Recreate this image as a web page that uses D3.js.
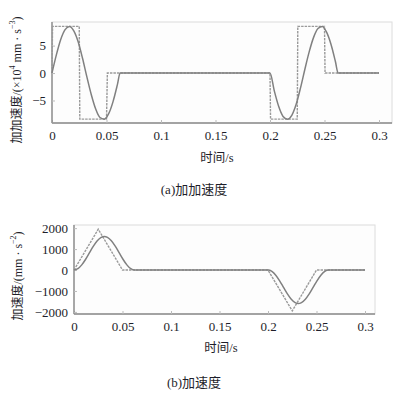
<!DOCTYPE html>
<html><head><meta charset="utf-8">
<script src="https://cdn.jsdelivr.net/npm/d3@7"></script>
<style>
html,body{margin:0;padding:0;background:#fff;}
svg{display:block;}
text{font-family:"Liberation Serif","Noto Sans CJK SC",serif;fill:#1e1e2a;}
</style></head><body>
<svg id="c" width="400" height="398"></svg>
<script>
// ---- data ----
const xTicks = [0, 0.05, 0.1, 0.15, 0.2, 0.25, 0.3];
const xTickLabels = ["0", "0.05", "0.1", "0.15", "0.2", "0.25", "0.3"];

// (a) jerk, x10^4 mm/s^3
const jerkTicks = [-5, 0, 5];
const jerkStepT = [0, 0.0005, 0.025, 0.0255, 0.05, 0.0508, 0.2, 0.2005, 0.225, 0.2255, 0.25, 0.2505, 0.3];
const jerkStepV = [0, 8.5, 8.5, -8.4, -8.4, 0, 0, -8.4, -8.4, 8.5, 8.5, 0, 0];
const jerkSmoothT = [0, 0.004, 0.008, 0.012, 0.016, 0.020, 0.024, 0.028, 0.032, 0.036, 0.040, 0.044, 0.048, 0.052, 0.056, 0.060, 0.0625,
  0.2, 0.204, 0.208, 0.212, 0.216, 0.220, 0.224, 0.228, 0.232, 0.236, 0.240, 0.244, 0.248, 0.252, 0.256, 0.260, 0.2625, 0.3];
const jerkSmoothV = [0, 3.3, 6.1, 7.9, 8.5, 7.7, 5.7, 2.7, -0.7, -3.9, -6.5, -8.1, -8.4, -7.4, -5.2, -2.1, 0,
  0, -3.3, -6.1, -7.9, -8.4, -7.7, -5.7, -2.7, 0.7, 3.9, 6.5, 8.1, 8.5, 7.4, 5.2, 2.1, 0, 0];

// (b) acceleration, mm/s^2
const accTicks = [-2000, -1000, 0, 1000, 2000];
const accTriT = [0, 0.025, 0.05, 0.2, 0.225, 0.25, 0.3];
const accTriV = [0, 1950, 0, 0, -1950, 0, 0];
const accSmoothT = [0, 0.004, 0.008, 0.012, 0.016, 0.020, 0.024, 0.028, 0.03125, 0.0345, 0.0385, 0.0425, 0.0465, 0.0505, 0.0545, 0.0585, 0.0625,
  0.2, 0.204, 0.208, 0.212, 0.216, 0.220, 0.224, 0.228, 0.23125, 0.2345, 0.2385, 0.2425, 0.2465, 0.2505, 0.2545, 0.2585, 0.2625, 0.3];
const accSmoothV = [0, 64, 245, 515, 830, 1140, 1395, 1555, 1600, 1555, 1395, 1140, 830, 515, 245, 64, 0,
  0, -64, -245, -515, -830, -1140, -1395, -1555, -1600, -1555, -1395, -1140, -830, -515, -245, -64, 0, 0];

const svg = d3.select("#c");

function panel(o) {
  const x = d3.scaleLinear().domain([0, 0.3]).range([o.x0, o.x1]);
  const y = d3.scaleLinear().domain(o.yDomain).range([o.yB, o.yT]);
  const g = svg.append("g");
  g.append("rect").attr("x", o.x0).attr("y", o.yT).attr("width", o.right - o.x0).attr("height", o.yB - o.yT)
    .attr("fill", "#fdfdfd").attr("stroke", "#dcdcdc").attr("stroke-width", 1);
  const xa = g.append("g").attr("transform", `translate(0,${o.yB})`)
    .call(d3.axisBottom(x).tickValues(xTicks).tickFormat((d, i) => xTickLabels[i]).tickSizeInner(-3).tickSizeOuter(0).tickPadding(8));
  xa.select(".domain").attr("stroke", "#8a8a8a").attr("stroke-width", 1.4).attr("d", `M${o.x0},0H${o.right}`);
  xa.selectAll(".tick line").attr("stroke", "#bbb");
  xa.selectAll("text").attr("font-size", o.fs).attr("fill", "#1e1e2a");
  const ya = g.append("g").attr("transform", `translate(${o.x0},0)`)
    .call(d3.axisLeft(y).tickValues(o.yTicks).tickFormat(d => d < 0 ? "\u2212" + Math.abs(d) : d).tickSizeInner(-3).tickSizeOuter(0).tickPadding(6));
  ya.select(".domain").attr("stroke", "#8a8a8a").attr("stroke-width", 1.4).attr("d", `M0,${o.yB}V${o.yT}`);
  ya.selectAll(".tick line").attr("stroke", "#bbb");
  ya.selectAll("text").attr("font-size", o.fs).attr("fill", "#1e1e2a");

  const line = d3.line().x(d => x(d[0])).y(d => y(d[1]));
  const smooth = d3.line().x(d => x(d[0])).y(d => y(d[1])).curve(d3.curveMonotoneX);
  g.append("path").datum(o.aT.map((t, i) => [t, o.aV[i]])).attr("d", line)
    .attr("fill", "none").attr("stroke", "#9a9a9a").attr("stroke-width", 1.4).attr("stroke-dasharray", "2.5,1");
  g.append("path").datum(o.bT.map((t, i) => [t, o.bV[i]])).attr("d", smooth)
    .attr("fill", "none").attr("stroke", "#808080").attr("stroke-width", 1.5);
  return { x, y };
}

panel({ x0: 52, x1: 379, right: 392, yT: 22, yB: 123, yDomain: [-9.1, 9.3], yTicks: jerkTicks, fs: 13,
  aT: jerkStepT, aV: jerkStepV, bT: jerkSmoothT, bV: jerkSmoothV });
panel({ x0: 74, x1: 365, right: 375, yT: 225, yB: 314, yDomain: [-2100, 2150], yTicks: accTicks, fs: 13,
  aT: accTriT, aV: accTriV, bT: accSmoothT, bV: accSmoothV });

function ylabel(cx, cy, parts) {
  const t = svg.append("text").attr("transform", `translate(${cx},${cy}) rotate(-90)`)
    .attr("text-anchor", "middle").attr("dominant-baseline", "central").attr("font-size", 12);
  parts.forEach(p => {
    const s = t.append("tspan").text(p.t);
    if (p.sup) s.attr("font-size", 8).attr("baseline-shift", "super");
  });
}
ylabel(17, 80, [{ t: "加加速度/(×10" }, { t: "4", sup: 1 }, { t: " mm · s" }, { t: "−3", sup: 1 }, { t: ")" }]);
ylabel(18, 276, [{ t: "加速度/(mm · s" }, { t: "−2", sup: 1 }, { t: ")" }]);

svg.append("text").attr("x", 217).attr("y", 162).attr("text-anchor", "middle").attr("font-size", 12.5).text("时间/s");
svg.append("text").attr("x", 194).attr("y", 194).attr("text-anchor", "middle").attr("font-size", 13).text("(a)加加速度");
svg.append("text").attr("x", 221).attr("y", 352).attr("text-anchor", "middle").attr("font-size", 12.5).text("时间/s");
svg.append("text").attr("x", 194).attr("y", 387).attr("text-anchor", "middle").attr("font-size", 13).text("(b)加速度");
</script>
</body></html>
